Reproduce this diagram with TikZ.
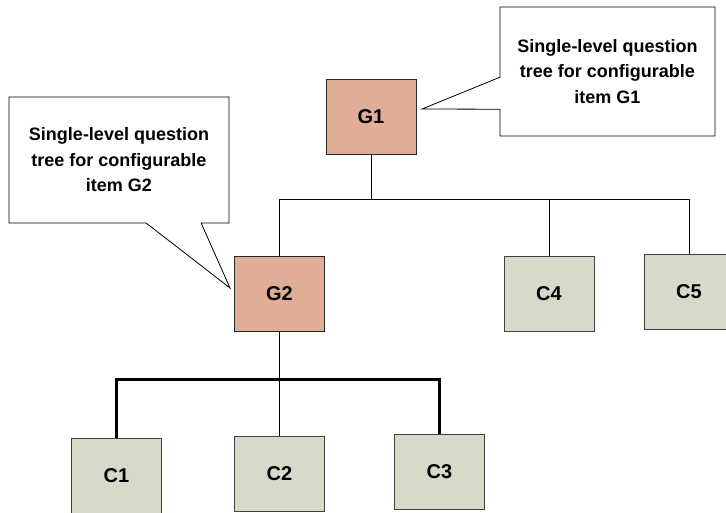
\documentclass[tikz,border=0pt]{standalone}
\usepackage{fontspec}
\setmainfont{Liberation Sans}
\usepackage{tikz}
\usetikzlibrary{positioning,calc}
\usetikzlibrary{shapes.callouts}
\definecolor{gfill}{RGB}{224,173,151}
\definecolor{cfill}{RGB}{216,218,201}
\tikzset{
  treenode/.style = {align=center, inner sep=0pt, text centered,
    font=\bfseries\fontsize{20}{24}\selectfont},
  item_g/.style = {treenode, rectangle, draw=black!85, fill=gfill,
    line width=1pt, minimum width=90pt, minimum height=75pt},% configurable item
  item_c/.style = {treenode, rectangle, draw=black!75, fill=cfill,
    line width=1pt, minimum width=90pt, minimum height=75pt},% component
  note_q/.style = {rectangle callout, draw=black, fill=white, line width=0.8pt,
    align=center, inner sep=0pt,
    font=\bfseries\fontsize{18}{25.5}\selectfont}
}

\begin{document}
\begin{tikzpicture}[x=1pt,y=-1pt,-]
\useasboundingbox (0,0) rectangle (726,512);
%
    \node (G1) [item_g] at (371,117) {G1};
    \node (G2) [item_g] at (279.5,293.5) {G2};
    \node (C4) [item_c] at (549,293.5) {C4};
    \node (C5) [item_c] at (689,291.5) {C5};
%
    \node (C1) [item_c] at (116.5,475.5) {C1};
    \node (C2) [item_c] at (279.5,473.5) {C2};
    \node (C3) [item_c] at (439.5,471.5) {C3};
%
    \node (N1) [note_q, minimum width=215pt, minimum height=129pt,
      callout pointer width=32pt, callout absolute pointer={(422,109)}]
      at (607.5,71.5) {Single-level question\\tree for configurable\\item G1};
    \node (N2) [note_q, minimum width=220pt, minimum height=126pt,
      callout pointer width=55pt, callout absolute pointer={(230,288)}]
      at (119,160) {Single-level question\\tree for configurable\\item G2};
%
\coordinate (B1) at ($(G1.south)+(0,44)$);
\coordinate (B2) at ($(G2.south)+(0,48)$);
%
\draw[line width=0.8pt] (G1) -- (B1);
\draw[line width=0.8pt] (B1) -| (G2);
\draw[line width=0.8pt] (B1) -| (C4);
\draw[line width=0.8pt] (B1) -| (C5);
%
\draw[line width=0.8pt] (G2) -- (C2);
\draw[line width=2.2pt] (B2) -| (C1);
\draw[line width=2.2pt] (B2) -| (C3);
\end{tikzpicture}
\end{document}
